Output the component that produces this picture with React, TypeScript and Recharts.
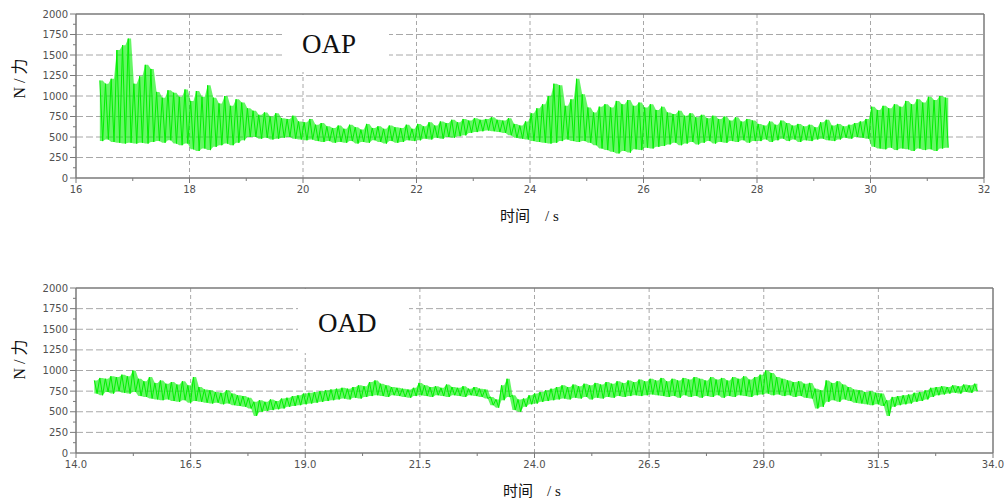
import React from 'react';
import { ComposedChart, Line, Area, XAxis, YAxis, CartesianGrid, ReferenceLine } from 'recharts';

// ---- OAP (top panel) : sampled envelope, alternating peak / trough ----
const topStart = 16.42;
const topStep = 0.1;
const topHigh = [
  1190, 1150, 1210, 1560, 1620, 1700, 1150, 1240, 1380, 1330,
  1050, 980, 1070, 1040, 990, 1080, 940, 1060, 990, 1130,
  980, 910, 1000, 880, 960, 920, 850, 820, 770, 800,
  750, 790, 730, 720, 760, 690, 680, 720, 650, 670,
  630, 610, 640, 600, 650, 620, 590, 660, 610, 630,
  600, 640, 620, 610, 650, 600, 660, 630, 680, 640,
  690, 670, 710, 680, 720, 700, 730, 710, 720, 740,
  710, 700, 730, 660, 640, 690, 790, 850, 900, 1000,
  1150, 1130, 880, 960, 1210, 1020, 860, 800, 870, 900,
  860, 940, 900, 950, 880, 920, 860, 900, 830, 870,
  800, 780, 820, 760, 790, 740, 770, 730, 760, 720,
  750, 700, 740, 690, 720, 700, 660, 640, 690, 650,
  700, 670, 640, 660, 630, 650, 620, 680, 710, 640,
  660, 630, 650, 670, 690, 720, 870, 830, 880, 850,
  900, 870, 940, 900, 960, 920, 990, 950, 1000, 980,
];
const topLow = [
  450, 470, 440, 430, 420, 430, 420, 430, 420, 440,
  450, 430, 460, 420, 400, 420, 350, 330, 360, 340,
  380, 400, 420, 400, 430, 460, 500, 500, 480, 490,
  470, 480, 490, 500, 480, 470, 460, 470, 450, 440,
  450, 430, 440, 430, 450, 420, 440, 430, 460, 440,
  420, 450, 430, 440, 460, 450, 460, 480, 470, 490,
  480, 500, 490, 510, 520, 550, 560, 570, 580, 570,
  560, 550, 520, 490, 480, 470, 450, 440, 430, 420,
  430, 450, 470, 450, 440, 450, 430, 400, 360, 340,
  320, 300, 330, 310, 350, 340, 370, 360, 380, 390,
  410, 430, 400, 420, 440, 410, 430, 450, 420, 440,
  430, 450, 440, 460, 430, 450, 450, 470, 440, 460,
  480, 450, 470, 440, 460, 450, 470, 480, 460, 450,
  470, 490, 480, 500, 490, 480, 380, 360, 350, 370,
  340, 360, 350, 330, 360, 340, 350, 330, 360, 370,
];

// ---- OAD (bottom panel) ----
const bottomStart = 14.4;
const bottomStep = 0.12;
const bottomHigh = [
  880, 910, 900, 930, 920, 950, 930, 1000, 900, 870,
  920, 850, 880, 840, 860, 830, 870, 820, 920, 800,
  770, 760, 740, 730, 760, 720, 700, 690, 670, 620,
  640, 620, 650, 630, 660, 670, 690, 700, 720, 730,
  740, 750, 760, 770, 780, 790, 780, 800, 820, 810,
  860, 880, 840, 820, 800, 790, 780, 770, 790, 850,
  820, 800, 810, 790, 830, 800, 790, 810, 780, 800,
  780, 770, 680, 650, 820, 900, 700, 650, 660, 700,
  720, 740, 760, 780, 800, 820, 800, 830, 810, 840,
  820, 850, 830, 860, 840, 870, 850, 880, 860, 890,
  870, 900, 880, 910, 870, 900, 880, 910, 890, 920,
  900, 880, 920, 890, 910, 880, 920, 900, 930, 890,
  920, 950, 1000, 970, 920, 900, 880, 860, 870, 840,
  850, 780, 760, 880, 850, 870, 830, 800, 770, 760,
  740, 750, 730, 720, 640, 680, 690, 700, 710, 730,
  740, 760, 790, 800, 810, 800, 820, 810, 830, 820,
  840,
];
const bottomLow = [
  720, 700, 740, 720, 750, 730, 720, 740, 690, 680,
  660, 650, 640, 650, 630, 620, 640, 610, 630, 620,
  610, 600, 610, 590, 600, 580, 570, 560, 540, 450,
  500, 510, 520, 530, 540, 560, 570, 580, 590, 600,
  610, 620, 630, 640, 650, 660, 650, 670, 660, 680,
  690, 700, 690, 680, 700, 690, 680, 670, 690, 700,
  690, 680, 700, 690, 680, 700, 690, 680, 700, 690,
  680, 660, 580, 550, 640, 680, 520, 500, 560, 590,
  600, 620, 630, 640, 650, 660, 650, 670, 660, 680,
  650, 670, 660, 680, 670, 690, 680, 690, 700, 690,
  700, 710, 700, 690, 680, 690, 670, 700, 680, 690,
  670, 690, 680, 700, 670, 690, 680, 700, 690, 680,
  700, 710, 720, 700, 710, 690, 700, 680, 690, 670,
  660, 540, 560, 620, 640, 620, 650, 630, 610, 600,
  590, 580, 590, 570, 450, 560, 580, 590, 600, 620,
  630, 650, 680, 700, 710, 720, 730, 720, 740, 730,
  750,
];

// ---- ticks ----
const yMajorTicks = [0, 250, 500, 750, 1000, 1250, 1500, 1750, 2000];
const yMinorTicks = [125, 375, 625, 875, 1125, 1375, 1625, 1875];
const yGridValues = [250, 500, 750, 1000, 1250, 1500, 1750];
const topXMajor = [16, 18, 20, 22, 24, 26, 28, 30, 32];
const topXMinor = [17, 19, 21, 23, 25, 27, 29, 31];
const bottomXMajor = [14, 16.5, 19, 21.5, 24, 26.5, 29, 31.5, 34];
const bottomXMinor = [15.25, 17.75, 20.25, 22.75, 25.25, 27.75, 30.25, 32.75];

// zigzag line through peak / trough samples, plus the envelope band of each sample
const buildSignal = (start: number, step: number, high: number[], low: number[]) =>
  high.flatMap((h, i) => [
    { t: start + i * step, v: h, band: [low[i], h] },
    { t: start + i * step + step / 2, v: low[i], band: [low[i], h] },
  ]);

const topData = buildSignal(topStart, topStep, topHigh, topLow);
const bottomData = buildSignal(bottomStart, bottomStep, bottomHigh, bottomLow);

const AXIS = '#7a7a7a';
const LABEL = '#505050';
const TICKFONT = 'DejaVu Sans, sans-serif';
const GREEN = '#00f000';

const YTick = (props: any) => {
  const { x, y, payload } = props;
  const v = payload.value;
  const major = yMajorTicks.includes(v);
  return (
    <g>
      <line x1={x - (major ? 6 : 3)} x2={x} y1={y} y2={y} stroke={AXIS} strokeWidth={1} />
      {major && (
        <text x={x - 8} y={y} dy={3.6} textAnchor="end" fontSize={10} fill={LABEL} fontFamily={TICKFONT}>
          {v}
        </text>
      )}
    </g>
  );
};

const XTick = (props: any) => {
  const { x, y, payload, majors, decimals } = props;
  const v = payload.value;
  const major = majors.includes(v);
  return (
    <g>
      <line x1={x} x2={x} y1={y} y2={y + (major ? 5 : 3)} stroke={AXIS} strokeWidth={1} />
      {major && (
        <text x={x} y={y + 15} textAnchor="middle" fontSize={10} fill={LABEL} fontFamily={TICKFONT}>
          {v.toFixed(decimals)}
        </text>
      )}
    </g>
  );
};

function Panel(props: {
  data: { t: number; v: number; band: number[] }[];
  xMajor: number[];
  xMinor: number[];
  decimals: number;
  top: number;
  height: number;
  marginRight: number;
}) {
  const { data, xMajor, xMinor, decimals, top, height, marginRight } = props;
  const xAll = [...xMajor, ...xMinor].sort((a, b) => a - b);
  const yAll = [...yMajorTicks, ...yMinorTicks].sort((a, b) => a - b);
  const xGrid = xMajor.slice(1, xMajor.length - 1);
  const xMin = xMajor[0];
  const xMax = xMajor[xMajor.length - 1];
  return (
    <div style={{ position: 'absolute', left: 0, top }}>
      <ComposedChart width={1006} height={height} data={data} margin={{ top: 14, right: marginRight, bottom: 0, left: 0 }}>
        <CartesianGrid horizontal vertical={false} horizontalValues={yGridValues} stroke="#a8a8a8" strokeDasharray="7 3" />
        <CartesianGrid horizontal={false} vertical verticalValues={xGrid} stroke="#a8a8a8" strokeDasharray="4 3" />
        <XAxis
          type="number"
          dataKey="t"
          domain={[xMin, xMax]}
          ticks={xAll}
          interval={0}
          tick={<XTick majors={xMajor} decimals={decimals} />}
          tickSize={0}
          tickMargin={0}
          tickLine={false}
          axisLine={{ stroke: AXIS, strokeWidth: 1.5 }}
          height={22}
          allowDataOverflow
        />
        <YAxis
          type="number"
          domain={[0, 2000]}
          ticks={yAll}
          interval={0}
          tick={<YTick />}
          tickSize={0}
          tickMargin={0}
          tickLine={false}
          axisLine={{ stroke: AXIS, strokeWidth: 1.5 }}
          width={76}
          allowDataOverflow
        />
        <ReferenceLine y={2000} stroke={AXIS} strokeWidth={1.5} />
        <ReferenceLine x={xMax} stroke={AXIS} strokeWidth={1.5} />
        <Area type="linear" dataKey="band" stroke="none" fill={GREEN} fillOpacity={0.6} isAnimationActive={false} />
        <Line type="linear" dataKey="v" stroke={GREEN} strokeWidth={1} dot={false} isAnimationActive={false} />
      </ComposedChart>
    </div>
  );
}

const SERIF = "'Liberation Serif', 'Noto Sans CJK SC', serif";

export default function App() {
  return (
    <div style={{ position: 'absolute', left: 0, top: 0, width: 1006, height: 504, background: '#fff', overflow: 'hidden' }}>
      <Panel data={topData} xMajor={topXMajor} xMinor={topXMinor} decimals={0} top={0} height={200} marginRight={22} />
      <Panel data={bottomData} xMajor={bottomXMajor} xMinor={bottomXMinor} decimals={1} top={274} height={201} marginRight={13} />
      <svg width={1006} height={504} style={{ position: 'absolute', left: 0, top: 0, pointerEvents: 'none' }}>
        <rect x={282} y={15} width={107} height={57} fill="#fff" />
        <text x={302} y={53} fontSize={27} fontFamily={SERIF} fill="#111">OAP</text>
        <rect x={298} y={289} width={111} height={64} fill="#fff" />
        <text x={318} y={332} fontSize={27} fontFamily={SERIF} fill="#111">OAD</text>

        <text x={25} y={78.5} fontSize={16} fontFamily={SERIF} fill="#111" textAnchor="middle" transform="rotate(-90, 25, 78.5)">N / 力</text>
        <text x={25} y={359.5} fontSize={16} fontFamily={SERIF} fill="#111" textAnchor="middle" transform="rotate(-90, 25, 359.5)">N / 力</text>

        <text x={500} y={221} fontSize={15} fontFamily={SERIF} fill="#111">
          <tspan>时间</tspan>
          <tspan x={545}>/ s</tspan>
        </text>
        <text x={503} y={496} fontSize={15} fontFamily={SERIF} fill="#111">
          <tspan>时间</tspan>
          <tspan x={547}>/ s</tspan>
        </text>
      </svg>
    </div>
  );
}
